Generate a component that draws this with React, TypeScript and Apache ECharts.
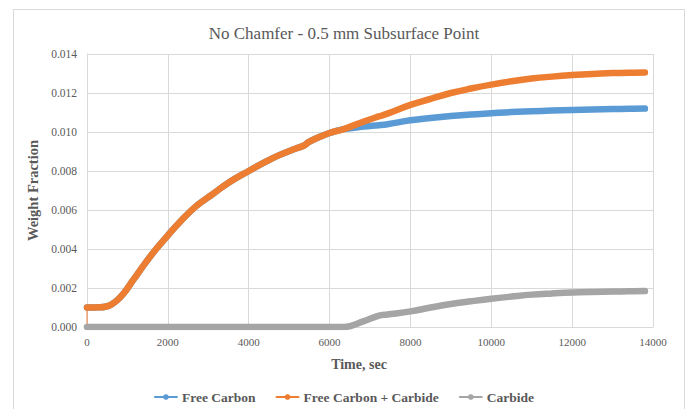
import React, { useEffect, useRef } from "react";
import * as echarts from "echarts";

const titleText = "No Chamfer - 0.5 mm Subsurface Point";
const seriesNames = ["Free Carbon", "Free Carbon + Carbide", "Carbide"];
const xTicks = { min: 0, max: 14000, interval: 2000 };
const yTicks = { min: 0, max: 0.014, interval: 0.002 };

const timeSec = [
  0, 300, 450, 600, 750, 900, 1140, 1450, 1710, 2000, 2280, 2700, 3100, 3500,
  4000, 4400, 4740, 5100, 5380, 5480, 5700, 6000, 6350, 6850, 7220, 7430, 8000,
  8500, 9000, 9500, 10000, 10500, 11000, 11500, 12000, 12500, 13000, 13400,
  13800,
];

const freeCarbonPlusCarbide = [
  0.001, 0.00101, 0.00104, 0.00115, 0.00138, 0.0017, 0.0024, 0.0033, 0.004,
  0.0047, 0.00535, 0.0062, 0.0068, 0.0074, 0.008, 0.00845, 0.0088, 0.0091,
  0.00932, 0.00948, 0.0097, 0.00995, 0.01015, 0.01054, 0.0108, 0.01094, 0.01139,
  0.0117, 0.012, 0.01223, 0.01243, 0.0126, 0.01274, 0.01284, 0.01292, 0.01298,
  0.01302, 0.01304, 0.01305,
];

const freeCarbon = [
  0.001, 0.00101, 0.00104, 0.00115, 0.00138, 0.0017, 0.0024, 0.0033, 0.004,
  0.0047, 0.00535, 0.0062, 0.0068, 0.0074, 0.008, 0.00845, 0.0088, 0.0091,
  0.00932, 0.00948, 0.0097, 0.00995, 0.01015, 0.01028, 0.01035, 0.0104, 0.0106,
  0.01072, 0.01082, 0.0109, 0.01096, 0.01102, 0.01106, 0.0111, 0.01113, 0.01116,
  0.01118, 0.01119, 0.0112,
];

const carbide = [
  0, 0, 0, 0, 0, 0, 0, 0, 0, 0, 0, 0, 0, 0, 0, 0, 0, 0, 0, 0, 0, 0, 0, 0.0003,
  0.00058, 0.00064, 0.0008, 0.001, 0.00118, 0.00132, 0.00145, 0.00156, 0.00166,
  0.00172, 0.00177, 0.0018, 0.00182, 0.00183, 0.00184,
];

// initial jump of the orange series at t = 0
const startTime = [0, 0];
const startValue = [0, 0.001];

const COLORS = ["#5B9BD5", "#ED7D31", "#A5A5A5"];
const FONT = "Liberation Serif";
const TEXT = "#595959";
const GRID = "#d9d9d9";

const pairs = (xs: number[], ys: number[]) => xs.map((x, i) => [x, ys[i]]);

export default function App() {
  const ref = useRef<HTMLDivElement>(null);
  useEffect(() => {
    if (!ref.current) return;
    const chart = echarts.init(ref.current, null, { renderer: "svg" });
    const lineSeries = (name: string, data: number[][], color: string, z: number) => ({
      name,
      type: "line",
      data,
      showSymbol: false,
      symbol: "circle",
      symbolSize: 7,
      smooth: 0.4,
      z,
      itemStyle: { color },
      lineStyle: { color, width: 6.5, cap: "round", join: "round" },
    });
    chart.setOption({
      animation: false,
      backgroundColor: "#ffffff",
      textStyle: { fontFamily: FONT },
      title: {
        text: titleText,
        left: "center",
        top: 20,
        textStyle: { fontFamily: FONT, fontSize: 17, fontWeight: "normal", color: TEXT },
      },
      graphic: [
        {
          type: "rect",
          shape: { x: 13.5, y: 9.5, width: 671, height: 420 },
          style: { fill: "none", stroke: GRID, lineWidth: 1 },
          silent: true,
        },
      ],
      grid: { left: 87, right: 35, top: 54, bottom: 82, containLabel: false },
      xAxis: {
        type: "value",
        min: xTicks.min,
        max: xTicks.max,
        interval: xTicks.interval,
        name: "Time, sec",
        nameLocation: "middle",
        nameGap: 30,
        nameTextStyle: {
          fontFamily: FONT,
          fontSize: 14,
          fontWeight: "bold",
          color: TEXT,
          padding: [0, 22, 0, 0],
        },
        axisLine: { show: true, lineStyle: { color: GRID } },
        axisTick: { show: false },
        axisLabel: {
          margin: 9,
          fontFamily: FONT,
          fontSize: 11,
          color: TEXT,
          formatter: (v: number) => String(v),
        },
        splitLine: { show: true, lineStyle: { color: GRID, width: 1 } },
      },
      yAxis: {
        type: "value",
        min: yTicks.min,
        max: yTicks.max,
        interval: yTicks.interval,
        name: "Weight Fraction",
        nameLocation: "middle",
        nameRotate: 90,
        nameGap: 45,
        nameTextStyle: { fontFamily: FONT, fontSize: 14.5, fontWeight: "bold", color: TEXT },
        axisLine: { show: true, lineStyle: { color: GRID } },
        axisTick: { show: false },
        axisLabel: {
          margin: 10,
          fontFamily: FONT,
          fontSize: 11.5,
          color: TEXT,
          formatter: (v: number) => v.toFixed(3),
        },
        splitLine: { show: true, lineStyle: { color: GRID, width: 1 } },
      },
      legend: {
        data: seriesNames,
        left: "center",
        top: 385,
        itemWidth: 22,
        itemHeight: 7,
        itemGap: 20,
        lineStyle: { width: 2 },
        textStyle: { fontFamily: FONT, fontSize: 13.5, fontWeight: "bold", color: TEXT },
      },
      series: [
        {
          name: "start",
          type: "line",
          data: pairs(startTime, startValue),
          showSymbol: false,
          z: 1,
          lineStyle: { color: COLORS[1], width: 1 },
          silent: true,
        },
        lineSeries(seriesNames[0], pairs(timeSec, freeCarbon), COLORS[0], 2),
        lineSeries(seriesNames[1], pairs(timeSec, freeCarbonPlusCarbide), COLORS[1], 3),
        lineSeries(seriesNames[2], pairs(timeSec, carbide), COLORS[2], 4),
      ],
    });
    return () => chart.dispose();
  }, []);
  return (
    <div
      ref={ref}
      style={{ position: "fixed", left: 0, top: 0, width: 688, height: 409 }}
    />
  );
}
